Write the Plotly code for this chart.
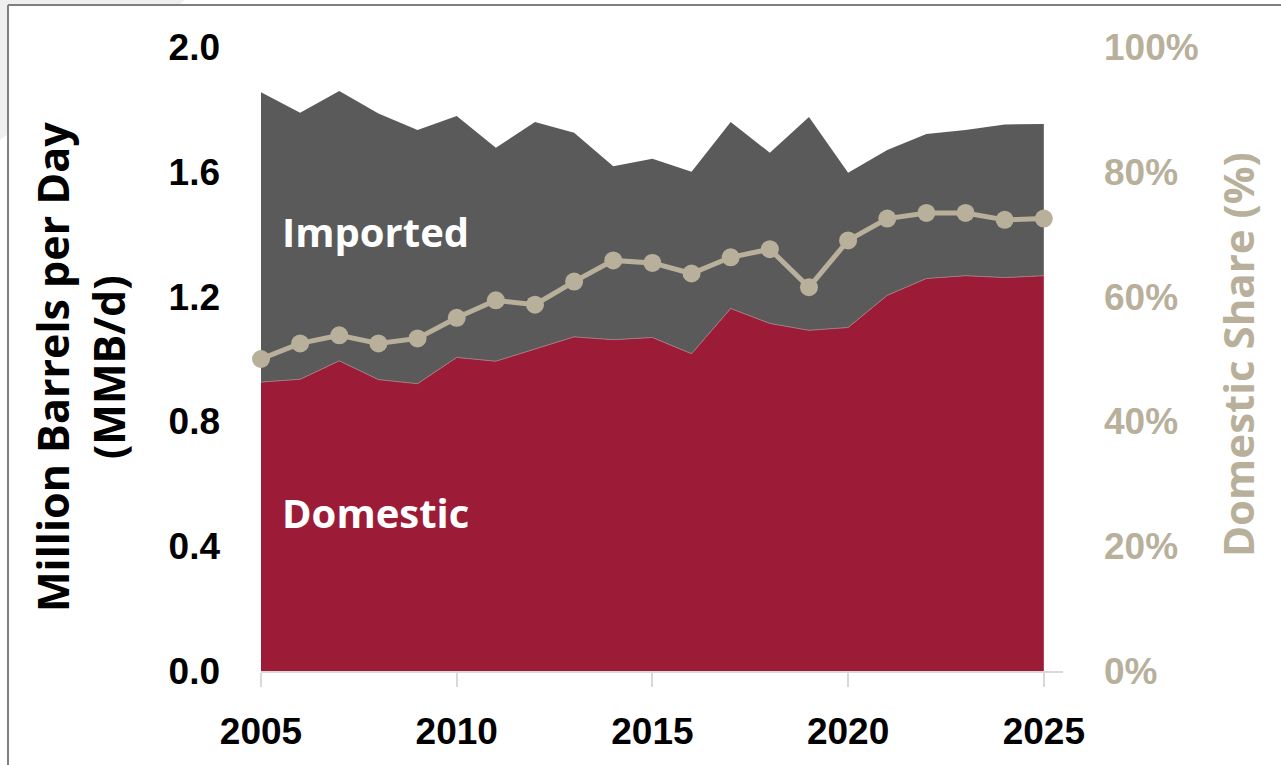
import plotly.graph_objects as go

# Crude oil supply, million barrels per day
years = list(range(2005, 2026))
domestic = [0.926, 0.935, 0.994, 0.934, 0.921, 1.005, 0.993, 1.032, 1.071, 1.062, 1.069,
            1.017, 1.162, 1.114, 1.092, 1.101, 1.204, 1.258, 1.267, 1.261, 1.267]
imported = [0.929, 0.854, 0.865, 0.853, 0.813, 0.774, 0.684, 0.728, 0.654, 0.556, 0.573,
            0.583, 0.598, 0.547, 0.684, 0.496, 0.466, 0.463, 0.467, 0.491, 0.486]
# Domestic share of total supply (%)
domestic_share = [50.0, 52.5, 53.8, 52.5, 53.3, 56.6, 59.4, 58.7, 62.4, 65.8, 65.4,
                  63.7, 66.3, 67.6, 61.5, 69.0, 72.5, 73.4, 73.4, 72.3, 72.5]

left_ticks = [0.0, 0.4, 0.8, 1.2, 1.6, 2.0]
right_ticks = [0, 20, 40, 60, 80, 100]
x_ticks = [2005, 2010, 2015, 2020, 2025]

RED = "#9C1C37"
GRAY = "#5A5A5A"
TAN = "#B8B09B"

W, H = 1281, 765
L, R, T, B = 261, 1063, 47, 671


def px(x):
    return (x - L) / (R - L)


def py(y):
    return (B - y) / (B - T)


fig = go.Figure()

fig.add_trace(go.Scatter(
    x=years, y=domestic, name="Domestic", stackgroup="supply",
    mode="lines", line=dict(width=1, color="#a07880"), fillcolor=RED,
    hoverinfo="skip",
))
fig.add_trace(go.Scatter(
    x=years, y=imported, name="Imported", stackgroup="supply",
    mode="lines", line=dict(width=0, color=GRAY), fillcolor=GRAY,
    hoverinfo="skip",
))
fig.add_trace(go.Scatter(
    x=years, y=domestic_share, name="Domestic Share", yaxis="y2",
    mode="lines+markers", line=dict(width=5, color=TAN),
    marker=dict(size=18, color=TAN), cliponaxis=False,
    hoverinfo="skip",
))

tick_font = dict(family="Liberation Sans, Arial", size=37, color="#000000", weight="bold")

fig.update_layout(
    width=W, height=H,
    margin=dict(l=L, r=W - R, t=T, b=H - B),
    paper_bgcolor="#ffffff",
    plot_bgcolor="#ffffff",
    showlegend=False,
    xaxis=dict(
        range=[2005, 2025.49],
        tickvals=x_ticks,
        ticktext=[str(v) for v in x_ticks],
        ticks="outside", ticklen=14, tickwidth=1.5, tickcolor="#d9d9d9",
        showline=True, linecolor="#d9d9d9", linewidth=1.5,
        showgrid=False, zeroline=False,
        tickfont=tick_font,
        ticklabelstandoff=13,
    ),
    yaxis=dict(
        range=[0, 2.0],
        tickvals=left_ticks,
        ticktext=[f"{v:.1f}" for v in left_ticks],
        showgrid=False, zeroline=False, showline=False, ticks="",
        tickfont=tick_font,
        ticklabelstandoff=40,
    ),
    yaxis2=dict(
        range=[0, 100],
        overlaying="y", side="right",
        tickvals=right_ticks,
        ticktext=[f"{v}%" for v in right_ticks],
        showgrid=False, zeroline=False, showline=False, ticks="",
        tickfont=dict(family="Liberation Sans, Arial", size=37, color=TAN, weight="bold"),
        ticklabelstandoff=40,
    ),
)

# Light corner wedge behind the frame, white frame interior, and frame edges
fig.add_shape(type="path", xref="paper", yref="paper",
              path=f"M {px(0)},{py(0)} L {px(185)},{py(0)} L {px(0)},{py(140)} Z",
              fillcolor="#efefef", line=dict(width=0), layer="below")
fig.add_shape(type="rect", xref="paper", yref="paper",
              x0=px(8), y0=py(5), x1=px(W), y1=py(H),
              fillcolor="#ffffff", line=dict(width=0), layer="below")
fig.add_shape(type="line", xref="paper", yref="paper",
              x0=px(8), y0=py(5), x1=px(W), y1=py(5),
              line=dict(color="#7f7f7f", width=2))
fig.add_shape(type="line", xref="paper", yref="paper",
              x0=px(8), y0=py(5), x1=px(8), y1=py(H),
              line=dict(color="#7f7f7f", width=2))

label_font = dict(family="Open Sans", size=40, color="#ffffff", weight="bold")
fig.add_annotation(x=px(280), y=py(232), xref="paper", yref="paper",
                   text="Imported", showarrow=False, xanchor="left", yanchor="middle",
                   font=label_font)
fig.add_annotation(x=px(280), y=py(512), xref="paper", yref="paper",
                   text="Domestic", showarrow=False, xanchor="left", yanchor="middle",
                   font=label_font)

# Axis titles
fig.add_annotation(x=px(80), y=py(367), xref="paper", yref="paper",
                   text="Million Barrels per Day<br>(MMB/d)", showarrow=False,
                   textangle=-90, xanchor="center", yanchor="middle",
                   font=dict(family="Open Sans", size=43, color="#000000", weight="bold"))
fig.add_annotation(x=px(1237), y=py(355), xref="paper", yref="paper",
                   text="Domestic Share (%)", showarrow=False,
                   textangle=-90, xanchor="center", yanchor="middle",
                   font=dict(family="Open Sans", size=42, color=TAN, weight="bold"))

fig.write_html("out.html")
